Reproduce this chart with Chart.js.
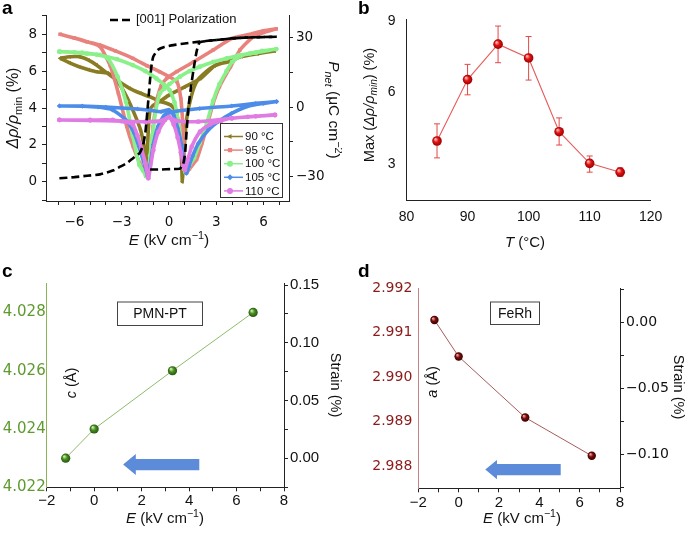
<!DOCTYPE html>
<html><head><meta charset="utf-8">
<script src="https://cdn.jsdelivr.net/npm/chart.js@4.4.0/dist/chart.umd.min.js"></script>
<style>
html,body{margin:0;padding:0;background:#fff;}
body{width:685px;height:537px;position:relative;overflow:hidden;}
canvas{position:absolute;}
</style></head><body>
<canvas id="ca" width="342" height="268" style="left:0;top:0;width:342px;height:268px"></canvas>
<canvas id="cb" width="343" height="268" style="left:342px;top:0;width:343px;height:268px"></canvas>
<canvas id="cc" width="342" height="277" style="left:0;top:260px;width:342px;height:277px"></canvas>
<canvas id="cd" width="343" height="277" style="left:342px;top:260px;width:343px;height:277px"></canvas>
<script>
// ================= DATA =================
// Panel a : Δρ/ρmin (%) vs E (kV/cm); each loop = up-sweep then down-sweep
const aTempLabels = ['90 °C', '95 °C', '100 °C', '105 °C', '110 °C'];

const aE90 = [-6.9,-6.3,-5.7,-5.1,-4.6,-3.9,-3.2,-2.5,-1.8,-1.2,-0.5,0.1,0.45,0.65,0.78,0.85,0.95,1.1,1.4,1.8,2.4,2.9,3.8,4.6,5.6,6.7,
              6.7,5.6,4.6,3.7,2.9,2.0,1.0,0.0,-0.6,-1.0,-1.2,-1.3,-1.38,-1.42,-1.5,-1.8,-2.3,-2.8,-3.4,-3.9,-4.6,-5.1,-5.7,-6.3,-6.9];
const aR90 = [6.7,6.78,6.79,6.6,6.34,5.88,5.45,5.07,4.8,4.6,4.35,4.16,3.8,2.8,1.5,0.0,1.6,3.3,4.6,5.5,6.0,6.3,6.55,6.8,6.95,7.1,
              7.1,6.95,6.8,6.5,6.3,5.6,5.15,4.7,4.35,4.15,3.9,3.0,1.5,0.8,1.5,2.8,3.9,4.8,5.6,5.9,5.97,6.08,6.24,6.45,6.7];

const aE95 = [-6.9,-6.0,-5.2,-4.4,-3.4,-2.3,-1.4,-0.6,0.0,0.5,0.75,0.9,1.0,1.1,1.3,1.75,2.1,2.4,2.8,3.2,3.9,4.5,5.35,6.0,6.8,
              6.8,6.0,5.35,4.0,2.8,1.55,0.5,-0.15,-0.5,-0.8,-1.0,-1.15,-1.3,-1.45,-1.6,-1.85,-2.27,-2.68,-3.21,-3.73,-4.4,-5.2,-6.0,-6.9];
const aR95 = [8.0,7.8,7.6,7.42,7.1,6.7,6.3,5.97,5.7,5.43,4.5,2.8,1.0,0.5,0.7,1.2,2.1,3.0,4.25,5.16,6.24,7.15,7.87,8.1,8.3,
              8.3,8.2,8.05,7.78,7.15,6.5,5.98,5.6,5.2,4.3,3.0,1.6,0.3,0.3,0.6,1.0,1.9,3.0,4.8,6.3,7.35,7.6,7.8,8.0];

const aE100 = [-6.95,-6.0,-5.2,-4.4,-3.3,-2.3,-1.5,-0.8,-0.3,0.03,0.35,0.6,0.8,0.95,1.05,1.25,1.6,1.95,2.4,2.8,3.2,3.65,4.0,4.6,5.5,6.8,
               6.8,5.9,5.14,4.4,3.65,2.8,1.95,1.3,0.69,0.03,-0.3,-0.58,-0.85,-1.05,-1.2,-1.32,-1.45,-1.65,-1.88,-2.3,-2.73,-3.26,-3.89,-4.6,-5.5,-6.95];
const aR100 = [7.06,7.02,6.95,6.88,6.65,6.33,6.0,5.6,5.25,4.98,4.3,3.2,1.8,0.7,0.5,0.8,1.3,2.1,3.2,4.4,5.3,6.0,6.5,6.85,7.0,7.2,
               7.2,7.1,6.97,6.85,6.69,6.5,6.24,6.0,5.7,5.3,5.05,4.8,3.8,2.5,1.4,0.3,0.3,0.6,0.9,2.5,4.34,5.7,6.7,6.9,7.0,7.06];

const aE105 = [-6.95,-5.5,-4.0,-3.0,-2.0,-1.2,-0.5,0.0,0.3,0.55,0.8,0.95,1.1,1.25,1.5,1.86,2.49,3.13,3.97,5.0,6.0,6.83,
               6.83,5.5,3.98,1.95,0.28,-0.3,-0.7,-1.0,-1.2,-1.35,-1.46,-1.78,-2.2,-2.73,-3.57,-4.5,-5.5,-6.95];
const aR105 = [4.11,4.1,4.05,4.0,3.95,3.88,3.8,3.9,3.6,2.9,2.0,1.2,0.45,0.8,1.4,2.08,2.8,3.26,3.71,4.1,4.25,4.35,
               4.35,4.25,4.11,3.97,3.79,3.6,3.0,2.0,0.9,0.3,0.64,1.54,2.63,3.35,3.89,4.05,4.1,4.11];

const aE110 = [-6.95,-5.0,-3.0,-1.5,-0.5,0.0,0.3,0.55,0.75,0.9,1.01,1.2,1.44,1.97,2.6,3.3,4.0,5.5,6.72,
               6.72,5.0,3.97,1.86,0.5,0.0,-0.25,-0.68,-1.0,-1.31,-1.5,-1.75,-2.0,-2.28,-2.8,-3.57,-5.0,-6.95];
const aR110 = [3.35,3.33,3.28,3.25,3.3,3.5,3.1,2.4,1.6,0.9,0.63,1.2,1.9,2.71,3.1,3.3,3.44,3.55,3.62,
               3.62,3.52,3.44,3.26,3.3,3.5,3.35,2.7,1.7,0.18,1.0,1.8,2.5,3.08,3.25,3.35,3.35,3.35];

// Polarization (right axis, μC cm^-2)
const aPolLabel = '[001] Polarization';
const aPolUpE = [-6.95,-6.0,-5.2,-4.38,-3.5,-3.1,-2.68,-2.28,-1.86,-1.65,-1.5,-1.4,-1.3,-1.2,-1.1,-1.0,-0.72,-0.3,0.28,1.0,1.95,3.0,3.98,5.0,6.0,6.83];
const aPolUpP = [-30.7,-30.2,-29.6,-29.0,-27.2,-25.7,-24.2,-22.0,-19.8,-16.5,-11.0,-4.0,4.0,12.0,18.5,21.8,24.7,26.0,26.8,27.5,28.3,29.0,29.7,30.1,30.3,30.4];
const aPolDnE = [6.83,5.0,4.0,3.0,1.95,1.75,1.55,1.4,1.25,1.12,1.02,0.9,0.7,0.2,-0.58,-1.2];
const aPolDnP = [30.4,30.1,29.7,29.0,28.0,24.0,16.0,9.0,1.0,-10.0,-20.0,-24.5,-26.5,-26.7,-26.9,-26.9];

const aXTicks = [-6, -3, 0, 3, 6];
const aXMarks = [-7,-6,-5,-4,-3,-2,-1,0,1,2,3,4,5,6,7];
const aYTicks = [0, 2, 4, 6, 8];
const aYMarks = [-1,0,1,2,3,4,5,6,7,8,9];
const aY2Ticks = [-30, 0, 30];
const aY2Marks = [-30, -15, 0, 15, 30];

// Panel b : Max(Δρ/ρmin) vs T
const bT   = [85, 90, 95, 100, 105, 110, 115];
const bMax = [3.96, 6.54, 8.03, 7.45, 4.35, 3.02, 2.65];
const bHi  = [4.68, 7.18, 8.79, 8.35, 4.93, 3.33, 2.83];
const bLo  = [3.25, 5.90, 7.25, 6.52, 3.79, 2.65, 2.47];
const bXTicks = [80, 90, 100, 110, 120];
const bYTicks = [3, 6, 9];

// Panel c : PMN-PT c lattice parameter vs E
const cE = [-1.2, 0, 3.3, 6.7];
const cC = [4.023, 4.024, 4.026, 4.028];
const cLabel = 'PMN-PT';
const cXTicks = [-2, 0, 2, 4, 6, 8];
const cXMarks = [-2,-1,0,1,2,3,4,5,6,7,8];
const cYTicks = [4.022, 4.024, 4.026, 4.028];
const cStrainTicks = [0, 0.05, 0.10, 0.15];
const cStrainMarks = [-0.025, 0, 0.025, 0.05, 0.075, 0.10, 0.125, 0.15];

// Panel d : FeRh a lattice parameter vs E
const dE = [-1.2, 0, 3.3, 6.6];
const dA = [2.99128, 2.99046, 2.98909, 2.98823];
const dLabel = 'FeRh';
const dXTicks = [-2, 0, 2, 4, 6, 8];
const dXMarks = [-2,-1,0,1,2,3,4,5,6,7,8];
const dYTicks = [2.988, 2.989, 2.990, 2.991, 2.992];
const dStrainTicks = [-0.10, -0.05, 0];
const dStrainMarks = [-0.125, -0.10, -0.075, -0.05, -0.025, 0, 0.025];

// ================= HELPERS =================
const SANS = 'Arial, "Liberation Sans", Helvetica, sans-serif';
const DJV = '"DejaVu Sans", Verdana, sans-serif';
Chart.defaults.font.family = SANS;
Chart.defaults.color = '#111';

const pts = (xs, ys) => xs.map((x, i) => ({x, y: ys[i]}));
const fmt = (v, dec) => {
  let s = dec ? v.toFixed(dec) : String(Math.round(v * 1e6) / 1e6);
  if (/^-0(\.0+)?$/.test(s)) s = s.slice(1);
  return s.replace('-', '\u2212');
};

function axis(o) {
  const vert = o.pos === 'left' || o.pos === 'right';
  return {
    type: 'linear', position: o.pos, min: o.min, max: o.max,
    afterFit: s => { if (vert) s.width = o.fit; else s.height = o.fit; },
    afterBuildTicks: s => { s.ticks = o.marks.map(v => ({value: v})); },
    ticks: {
      autoSkip: false, maxRotation: 0, minRotation: 0, padding: o.pad,
      color: o.color || '#111', font: o.font,
      callback: v => o.labels.some(l => Math.abs(l - v) < 1e-9) ? fmt(v, o.dec || 0) : ''
    },
    grid: {display: true, drawOnChartArea: false, drawTicks: o.tick > 0, tickLength: o.tick || 0,
           tickColor: o.border || '#222', color: o.border || '#222', lineWidth: 1},
    border: {display: true, color: o.border || '#222', width: 1}
  };
}

function drawRich(ctx, segs, x, y, rot, size, color) {
  ctx.save();
  ctx.translate(x, y);
  ctx.rotate(rot);
  const parts = segs.map(s => {
    const sz = (s.sub || s.sup) ? size * 0.7 : size;
    const font = (s.it ? 'italic ' : '') + (s.b ? 'bold ' : '') + sz + 'px ' + SANS;
    ctx.font = font;
    return {t: s.t, font, w: ctx.measureText(s.t).width,
            dy: s.sub ? size * 0.3 : (s.sup ? -size * 0.35 : 0)};
  });
  const total = parts.reduce((a, p) => a + p.w, 0);
  let cx = -total / 2;
  ctx.fillStyle = color || '#111';
  ctx.textBaseline = 'middle';
  ctx.textAlign = 'left';
  for (const p of parts) { ctx.font = p.font; ctx.fillText(p.t, cx, p.dy); cx += p.w; }
  ctx.restore();
}

function panelLetter(ctx, t, x, y) {
  ctx.save();
  ctx.font = 'bold 19px ' + SANS;
  ctx.fillStyle = '#000';
  ctx.textBaseline = 'alphabetic';
  ctx.fillText(t, x, y);
  ctx.restore();
}

function sphere(base, hi, dark, r) {
  return c => {
    if (c.type !== 'data' || !c.parsed) return base;
    const ch = c.chart, m = ch.getDatasetMeta(c.datasetIndex);
    const xs = ch.scales[m.xAxisID], ys = ch.scales[m.yAxisID];
    if (!xs || !ys) return base;
    const px = xs.getPixelForValue(c.parsed.x), py = ys.getPixelForValue(c.parsed.y);
    if (!isFinite(px) || !isFinite(py)) return base;
    const g = ch.ctx.createRadialGradient(px - r * 0.35, py - r * 0.4, r * 0.1, px, py, r);
    g.addColorStop(0, hi); g.addColorStop(0.45, base); g.addColorStop(1, dark);
    return g;
  };
}

function arrowLeft(ctx, xTail, xTip, y, headLen, headHalf, bodyHalf, color) {
  ctx.save();
  ctx.fillStyle = color;
  ctx.beginPath();
  ctx.moveTo(xTip, y);
  ctx.lineTo(xTip + headLen, y - headHalf);
  ctx.lineTo(xTip + headLen, y - bodyHalf);
  ctx.lineTo(xTail, y - bodyHalf);
  ctx.lineTo(xTail, y + bodyHalf);
  ctx.lineTo(xTip + headLen, y + bodyHalf);
  ctx.lineTo(xTip + headLen, y + headHalf);
  ctx.closePath();
  ctx.fill();
  ctx.restore();
}

function textBox(ctx, txt, x0, y0, x1, y1, size) {
  ctx.save();
  ctx.fillStyle = '#fff';
  ctx.fillRect(x0, y0, x1 - x0, y1 - y0);
  ctx.strokeStyle = '#444'; ctx.lineWidth = 1;
  ctx.strokeRect(x0 + 0.5, y0 + 0.5, x1 - x0, y1 - y0);
  ctx.font = size + 'px ' + SANS; ctx.fillStyle = '#111';
  ctx.textAlign = 'center'; ctx.textBaseline = 'middle';
  ctx.fillText(txt, (x0 + x1) / 2 + 0.5, (y0 + y1) / 2 + 1);
  ctx.restore();
}

const E_TITLE = [{t: 'E', it: true}, {t: ' (kV cm'}, {t: '\u22121', sup: true}, {t: ')'}];
const common = {responsive: false, animation: false, devicePixelRatio: 1,
  plugins: {legend: {display: false}, tooltip: {enabled: false}}};

// ================= PANEL A =================
const tCols = ['#8a7c22', '#e9827c', '#8af08a', '#4d8ce8', '#e07be4'];
const tStyles = [['triangle', 270], ['rect', 0], ['circle', 0], ['rectRot', 0], ['circle', 0]];
const tE = [aE90, aE95, aE100, aE105, aE110];
const tR = [aR90, aR95, aR100, aR105, aR110];
const tOrder = [5, 4, 3, 2, 1];

const aSets = [
  {label: aPolLabel, data: pts(aPolUpE, aPolUpP), yAxisID: 'y2', showLine: true, borderColor: '#000',
   borderWidth: 2.6, borderDash: [8, 4], pointRadius: 0, tension: 0.15, order: 0},
  {label: aPolLabel + ' ', data: pts(aPolDnE, aPolDnP), yAxisID: 'y2', showLine: true, borderColor: '#000',
   borderWidth: 2.6, borderDash: [8, 4], pointRadius: 0, tension: 0.15, order: 0}
];
aTempLabels.forEach((lab, i) => aSets.push({
  label: lab, data: pts(tE[i], tR[i]), yAxisID: 'y', showLine: true,
  borderColor: tCols[i], backgroundColor: tCols[i], borderWidth: 3.6,
  pointStyle: tStyles[i][0], rotation: tStyles[i][1], pointRadius: 2.4, pointBorderWidth: 0,
  tension: 0.2, order: tOrder[i]
}));

const aPlugin = {id: 'aDeco', afterDraw(ch) {
  const ctx = ch.ctx;
  panelLetter(ctx, 'a', 2, 14);
  drawRich(ctx, [{t: '\u0394\u03c1/\u03c1', it: true}, {t: 'min', sub: true}, {t: ' (%)'}], 14, 108, -Math.PI / 2, 16, '#111');
  drawRich(ctx, [{t: 'P', it: true}, {t: 'net', sub: true, it: true}, {t: ' (\u03bcC cm'}, {t: '\u22122', sup: true}, {t: ')'}], 333, 110, Math.PI / 2, 15.5, '#111');
  drawRich(ctx, E_TITLE, 169, 241, 0, 15.5, '#111');
  // polarization legend
  ctx.save();
  ctx.strokeStyle = '#000'; ctx.lineWidth = 2.6; ctx.setLineDash([8, 4]);
  ctx.beginPath(); ctx.moveTo(110, 20); ctx.lineTo(133, 20); ctx.stroke();
  ctx.setLineDash([]);
  ctx.font = '13px ' + SANS; ctx.fillStyle = '#111'; ctx.textBaseline = 'middle';
  ctx.fillText(aPolLabel, 136, 19.5);
  // temperature legend
  ctx.fillStyle = '#fff'; ctx.fillRect(220, 123, 62, 74);
  ctx.strokeStyle = '#333'; ctx.lineWidth = 1; ctx.strokeRect(220.5, 123.5, 62, 74);
  aTempLabels.forEach((lab, i) => {
    const y = 136.5 + i * 13.6;
    ctx.strokeStyle = tCols[i]; ctx.lineWidth = 1.5;
    ctx.beginPath(); ctx.moveTo(224, y); ctx.lineTo(243, y); ctx.stroke();
    ctx.fillStyle = tCols[i];
    Chart.helpers.drawPoint(ctx, {pointStyle: tStyles[i][0], rotation: tStyles[i][1], radius: 3, borderWidth: 0}, 230, y);
    ctx.fillStyle = '#111'; ctx.font = '11.5px ' + SANS; ctx.textBaseline = 'middle';
    ctx.fillText(lab, 245, y + 0.5);
  });
  ctx.restore();
}};

new Chart(document.getElementById('ca'), {
  type: 'scatter',
  data: {datasets: aSets},
  options: Object.assign({}, common, {
    layout: {padding: {top: 15, left: 0, right: 0, bottom: 0}},
    scales: {
      x: axis({pos: 'bottom', min: -7.8, max: 7.61, fit: 67, marks: aXMarks, labels: aXTicks, tick: 4, pad: 9, font: {family: DJV, size: 13.5}}),
      y: axis({pos: 'left', min: -1.05, max: 9.05, fit: 46, marks: aYMarks, labels: aYTicks, tick: 4, pad: 5, font: {family: DJV, size: 13.5}}),
      y2: axis({pos: 'right', min: -40.5, max: 39.8, fit: 53, marks: aY2Marks, labels: aY2Ticks, tick: 4, pad: 3, font: {family: DJV, size: 13.5}})
    }
  }),
  plugins: [aPlugin]
});

// ================= PANEL B =================
const bPlugin = {id: 'bDeco',
  beforeDatasetsDraw(ch) {
    const ctx = ch.ctx, xs = ch.scales.x, ys = ch.scales.y;
    ctx.save(); ctx.strokeStyle = '#e34848'; ctx.lineWidth = 1;
    bT.forEach((t, i) => {
      const x = xs.getPixelForValue(t), y0 = ys.getPixelForValue(bLo[i]), y1 = ys.getPixelForValue(bHi[i]);
      ctx.beginPath();
      ctx.moveTo(x, y0); ctx.lineTo(x, y1);
      ctx.moveTo(x - 3, y0); ctx.lineTo(x + 3, y0);
      ctx.moveTo(x - 3, y1); ctx.lineTo(x + 3, y1);
      ctx.stroke();
    });
    ctx.restore();
  },
  afterDraw(ch) {
    const ctx = ch.ctx;
    panelLetter(ctx, 'b', 16, 14);
    drawRich(ctx, [{t: 'Max ('}, {t: '\u0394\u03c1/\u03c1', it: true}, {t: 'min', sub: true, it: true}, {t: ') (%)'}], 28, 105, -Math.PI / 2, 14.5, '#111');
    drawRich(ctx, [{t: 'T', it: true}, {t: ' (\u00b0C)'}], 183, 243, 0, 15, '#111');
  }};

new Chart(document.getElementById('cb'), {
  type: 'scatter',
  data: {datasets: [{
    label: 'Max', data: pts(bT, bMax), showLine: true, borderColor: '#e85a5a', borderWidth: 1.1,
    pointRadius: 4.8, pointBorderWidth: 0, pointBackgroundColor: sphere('#e01414', '#ffb4b4', '#9a0000', 4.8), tension: 0
  }]},
  options: Object.assign({}, common, {
    layout: {padding: {top: 16.5, left: 0, right: 34.3, bottom: 0}},
    scales: {
      x: axis({pos: 'bottom', min: 80, max: 120, fit: 68, marks: bXTicks, labels: bXTicks, tick: 0, pad: 9, font: {family: SANS, size: 14}}),
      y: axis({pos: 'left', min: 1.48, max: 9.07, fit: 64.5, marks: bYTicks, labels: bYTicks, tick: 0, pad: 11, font: {family: SANS, size: 14}})
    }
  }),
  plugins: [bPlugin]
});

// ================= PANEL C =================
const cGreen = '#5f9a2f';
const cPlugin = {id: 'cDeco', afterDraw(ch) {
  const ctx = ch.ctx, xs = ch.scales.x, ys = ch.scales.y;
  panelLetter(ctx, 'c', 2, 17);
  drawRich(ctx, [{t: 'c', it: true}, {t: ' (\u00c5)'}], 72, 123, -Math.PI / 2, 14.5, '#111');
  drawRich(ctx, [{t: 'Strain (%)'}], 335, 125, Math.PI / 2, 14.5, '#111');
  drawRich(ctx, E_TITLE, 165, 259, 0, 15, '#111');
  textBox(ctx, cLabel, 117, 41.5, 202, 65, 14);
  arrowLeft(ctx, xs.getPixelForValue(4.43), xs.getPixelForValue(1.22), ys.getPixelForValue(4.02278), 12.7, 10.5, 5.6, '#5b8bd9');
}};

new Chart(document.getElementById('cc'), {
  type: 'scatter',
  data: {datasets: [{
    label: 'c', data: pts(cE, cC), showLine: true, borderColor: '#8fbb6a', borderWidth: 1,
    pointRadius: 4.6, pointBorderWidth: 0, pointBackgroundColor: sphere('#4a8f24', '#c8f0a0', '#24560c', 4.6), tension: 0
  }]},
  options: Object.assign({}, common, {
    layout: {padding: {top: 23.3, left: 0, right: 0, bottom: 0}},
    scales: {
      x: axis({pos: 'bottom', min: -2, max: 8, fit: 49.7, marks: cXMarks, labels: cXTicks, tick: 4, pad: 1, font: {family: SANS, size: 15}}),
      y: axis({pos: 'left', min: 4.022, max: 4.029, fit: 46.7, marks: cYTicks, labels: cYTicks, dec: 3, tick: 0, pad: 1, color: cGreen, border: '#8ab35a', font: {family: DJV, size: 15}}),
      y2: axis({pos: 'right', min: -0.0251, max: 0.1515, fit: 58, marks: cStrainMarks, labels: cStrainTicks, dec: 2, tick: 4, pad: 2, font: {family: SANS, size: 15}})
    }
  }),
  plugins: [cPlugin]
});

// ================= PANEL D =================
const dRed = '#8b1a1a';
const dPlugin = {id: 'dDeco', afterDraw(ch) {
  const ctx = ch.ctx, xs = ch.scales.x, ys = ch.scales.y;
  panelLetter(ctx, 'd', 16, 17);
  drawRich(ctx, [{t: 'a', it: true}, {t: ' (\u00c5)'}], 91, 122, -Math.PI / 2, 14.5, '#111');
  drawRich(ctx, [{t: 'Strain (%)'}], 336, 127, Math.PI / 2, 14.5, '#111');
  drawRich(ctx, E_TITLE, 180, 259, 0, 15, '#111');
  textBox(ctx, dLabel, 148, 41.5, 197, 64, 14);
  arrowLeft(ctx, xs.getPixelForValue(5.06), xs.getPixelForValue(1.32), ys.getPixelForValue(2.98792), 11.7, 9.7, 5.6, '#5b8bd9');
}};

new Chart(document.getElementById('cd'), {
  type: 'scatter',
  data: {datasets: [{
    label: 'a', data: pts(dE, dA), showLine: true, borderColor: '#a85a5a', borderWidth: 1,
    pointRadius: 4.2, pointBorderWidth: 0, pointBackgroundColor: sphere('#7a0c0c', '#f0a0a0', '#3a0000', 4.2), tension: 0
  }]},
  options: Object.assign({}, common, {
    layout: {padding: {top: 28, left: 0, right: 0, bottom: 0}},
    scales: {
      x: axis({pos: 'bottom', min: -2, max: 8, fit: 48.7, marks: dXMarks, labels: dXTicks, tick: 4, pad: 2, font: {family: SANS, size: 15}}),
      y: axis({pos: 'left', min: 2.9875, max: 2.992, fit: 76.3, marks: dYTicks, labels: dYTicks, dec: 3, tick: 0, pad: 6, color: dRed, border: '#c98080', font: {family: DJV, size: 14}}),
      y2: axis({pos: 'right', min: -0.1258, max: 0.026, fit: 65, marks: dStrainMarks, labels: dStrainTicks, dec: 2, tick: 4, pad: 2, font: {family: DJV, size: 14}})
    }
  }),
  plugins: [dPlugin]
});
</script>
</body></html>
